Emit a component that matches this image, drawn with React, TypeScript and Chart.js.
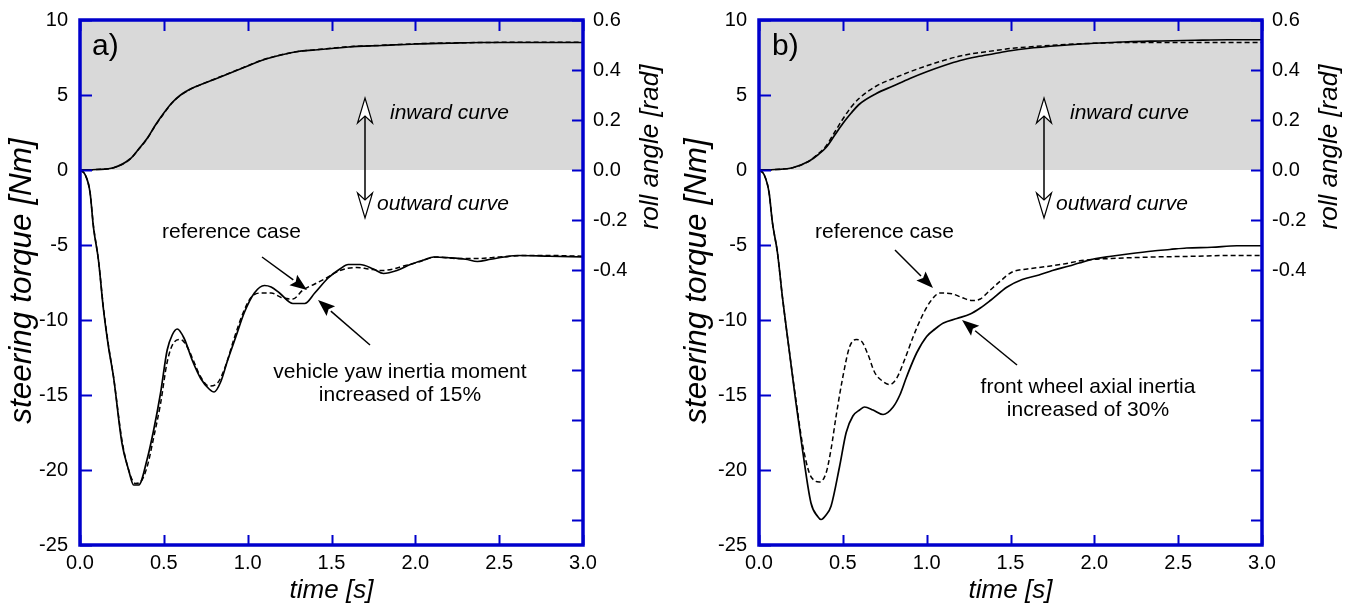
import React, { useEffect, useRef } from "react";
import { Chart, registerables } from "chart.js";

Chart.register(...registerables);

// ---------- ticks ----------
const TIME_TICKS = [0, 0.5, 1, 1.5, 2, 2.5, 3];
const TORQUE_TICKS = [-25, -20, -15, -10, -5, 0, 5, 10];
const ROLL_TICKS = [-1.4, -1.2, -1.0, -0.8, -0.6, -0.4, -0.2, 0, 0.2, 0.4, 0.6];
const ROLL_LABELLED = [-0.4, -0.2, 0, 0.2, 0.4, 0.6];

// ---------- panel a) : vehicle yaw inertia moment +15% ----------
const A_TORQUE_SOLID_T = [0, 0.03, 0.06, 0.08, 0.11, 0.14, 0.17, 0.2, 0.25, 0.29, 0.32, 0.35, 0.4, 0.44, 0.48, 0.52, 0.55, 0.58, 0.62, 0.67, 0.72, 0.77, 0.8, 0.84, 0.88, 0.93, 0.98, 1.04, 1.1, 1.14, 1.19, 1.27, 1.34, 1.4, 1.48, 1.55, 1.6, 1.67, 1.75, 1.81, 1.89, 1.97, 2.05, 2.11, 2.2, 2.3, 2.37, 2.45, 2.53, 2.61, 2.8, 3.0];
const A_TORQUE_SOLID_V = [0, -0.3, -1.5, -3.8, -6.0, -9.3, -11.8, -13.8, -18.2, -20.0, -21.0, -21.0, -19.3, -17.3, -14.9, -12.0, -11.0, -10.6, -11.2, -12.7, -13.9, -14.6, -14.8, -14.1, -12.7, -11.1, -9.5, -8.2, -7.7, -7.8, -8.2, -8.9, -8.9, -8.2, -7.2, -6.6, -6.3, -6.3, -6.6, -6.9, -6.7, -6.3, -6.0, -5.8, -5.85, -5.95, -6.1, -5.95, -5.8, -5.7, -5.75, -5.8];
const A_TORQUE_REF_T = [0, 0.03, 0.06, 0.08, 0.11, 0.14, 0.17, 0.2, 0.25, 0.29, 0.33, 0.36, 0.4, 0.44, 0.48, 0.52, 0.56, 0.6, 0.64, 0.68, 0.72, 0.77, 0.82, 0.87, 0.92, 0.97, 1.02, 1.08, 1.14, 1.2, 1.27, 1.33, 1.4, 1.47, 1.55, 1.65, 1.72, 1.8, 1.87, 1.93, 2.0, 2.13, 2.25, 2.37, 2.5, 2.65, 2.8, 3.0];
const A_TORQUE_REF_V = [0, -0.3, -1.5, -3.7, -6.0, -9.2, -11.7, -13.8, -18.0, -20.0, -20.9, -20.8, -19.8, -17.8, -15.6, -12.8, -11.5, -11.3, -11.8, -12.8, -13.8, -14.4, -14.2, -13.0, -11.2, -9.6, -8.5, -8.2, -8.2, -8.5, -8.6, -8.0, -7.6, -7.2, -6.7, -6.5, -6.6, -6.7, -6.6, -6.4, -6.2, -5.8, -5.9, -5.9, -5.8, -5.7, -5.7, -5.75];
const A_ROLL_T = [0, 0.1, 0.2, 0.3, 0.35, 0.4, 0.45, 0.5, 0.55, 0.6, 0.65, 0.7, 0.8, 0.9, 1.0, 1.1, 1.2, 1.3, 1.4, 1.5, 1.6, 1.8, 2.0, 2.2, 2.4, 2.6, 2.8, 3.0];
const A_ROLL_SOLID = [0, 0.002, 0.009, 0.045, 0.084, 0.126, 0.18, 0.228, 0.27, 0.3, 0.321, 0.336, 0.362, 0.389, 0.416, 0.442, 0.46, 0.474, 0.48, 0.486, 0.492, 0.498, 0.504, 0.507, 0.51, 0.51, 0.51, 0.51];
const A_ROLL_REF = [0, 0.002, 0.009, 0.044, 0.083, 0.125, 0.178, 0.226, 0.269, 0.299, 0.32, 0.336, 0.363, 0.39, 0.417, 0.443, 0.461, 0.474, 0.481, 0.487, 0.493, 0.499, 0.505, 0.508, 0.51, 0.511, 0.511, 0.511];

// ---------- panel b) : front wheel axial inertia +30% ----------
const B_TORQUE_SOLID_T = [0, 0.03, 0.06, 0.08, 0.11, 0.14, 0.18, 0.22, 0.26, 0.31, 0.35, 0.37, 0.4, 0.43, 0.48, 0.52, 0.56, 0.6, 0.63, 0.68, 0.74, 0.8, 0.84, 0.88, 0.94, 1.0, 1.05, 1.1, 1.18, 1.26, 1.32, 1.38, 1.48, 1.57, 1.67, 1.75, 1.85, 1.91, 2.01, 2.1, 2.2, 2.35, 2.45, 2.55, 2.7, 2.85, 3.0];
const B_TORQUE_SOLID_V = [0, -0.3, -1.5, -3.5, -5.5, -8.5, -12.0, -15.5, -18.7, -22.2, -23.1, -23.3, -23.0, -22.4, -19.8, -17.5, -16.4, -16.0, -15.8, -16.0, -16.3, -15.8, -15.0, -13.8, -12.2, -11.1, -10.6, -10.2, -9.9, -9.6, -9.2, -8.7, -7.8, -7.3, -7.0, -6.7, -6.4, -6.2, -5.9, -5.75, -5.6, -5.4, -5.3, -5.2, -5.15, -5.05, -5.05];
const B_TORQUE_REF_T = [0, 0.03, 0.06, 0.08, 0.11, 0.14, 0.18, 0.22, 0.26, 0.3, 0.33, 0.36, 0.4, 0.43, 0.46, 0.5, 0.54, 0.58, 0.61, 0.65, 0.69, 0.74, 0.78, 0.82, 0.87, 0.92, 0.97, 1.02, 1.08, 1.15, 1.21, 1.27, 1.32, 1.37, 1.44, 1.51, 1.6, 1.67, 1.8, 1.95, 2.1, 2.35, 2.6, 2.8, 3.0];
const B_TORQUE_REF_V = [0, -0.3, -1.5, -3.5, -5.5, -8.5, -12.0, -15.3, -18.3, -20.2, -20.7, -20.8, -20.2, -18.6, -16.4, -13.8, -11.8, -11.3, -11.4, -12.3, -13.5, -14.1, -14.3, -13.9, -12.6, -11.1, -9.8, -8.8, -8.2, -8.25, -8.5, -8.7, -8.6, -8.1, -7.4, -6.8, -6.6, -6.5, -6.3, -6.0, -5.9, -5.8, -5.75, -5.7, -5.7];
const B_ROLL_T = [0, 0.1, 0.2, 0.3, 0.35, 0.4, 0.45, 0.5, 0.55, 0.6, 0.7, 0.8, 0.9, 1.0, 1.1, 1.2, 1.3, 1.4, 1.5, 1.6, 1.8, 2.0, 2.2, 2.4, 2.6, 2.8, 3.0];
const B_ROLL_SOLID = [0, 0.002, 0.009, 0.036, 0.06, 0.09, 0.138, 0.186, 0.228, 0.264, 0.306, 0.336, 0.366, 0.393, 0.417, 0.438, 0.453, 0.465, 0.477, 0.486, 0.498, 0.507, 0.513, 0.516, 0.519, 0.521, 0.521];
const B_ROLL_REF = [0, 0.002, 0.009, 0.036, 0.063, 0.096, 0.15, 0.204, 0.252, 0.288, 0.336, 0.366, 0.393, 0.417, 0.438, 0.456, 0.468, 0.477, 0.486, 0.492, 0.501, 0.507, 0.51, 0.51, 0.51, 0.51, 0.51];

// ---------- text ----------
const X_TITLE = "time [s]";
const Y_TITLE = "steering torque [Nm]";
const Y1_TITLE = "roll angle [rad]";

const FONT = '"Liberation Sans", Arial, Helvetica, sans-serif';
const BLUE = "#0000cc";
const GREY = "#d9d9d9";

type PanelCfg = {
  label: string;
  labelX: number;
  yTitleX: number;
  refText: [number, number];
  refArrow: [number, number, number, number];
  varArrow: [number, number, number, number];
  varLines: string[];
  varCenter: [number, number];
  dblX: number;
  inwardX: number;
  outwardX: number;
  torqueSolid: [number[], number[]];
  torqueRef: [number[], number[]];
  rollT: number[];
  rollSolid: number[];
  rollRef: number[];
};

const PANELS: PanelCfg[] = [
  {
    label: "a)",
    labelX: 92,
    yTitleX: 31,
    refText: [162, 238],
    refArrow: [262, 257, 307, 290],
    varArrow: [370, 345, 318, 300],
    varLines: ["vehicle yaw inertia moment", "increased of 15%"],
    varCenter: [400, 378],
    dblX: 365,
    inwardX: 390,
    outwardX: 377,
    torqueSolid: [A_TORQUE_SOLID_T, A_TORQUE_SOLID_V],
    torqueRef: [A_TORQUE_REF_T, A_TORQUE_REF_V],
    rollT: A_ROLL_T,
    rollSolid: A_ROLL_SOLID,
    rollRef: A_ROLL_REF,
  },
  {
    label: "b)",
    labelX: 93,
    yTitleX: 27,
    refText: [136, 238],
    refArrow: [216, 250, 254, 288],
    varArrow: [338, 365, 283, 320],
    varLines: ["front wheel axial inertia", "increased of 30%"],
    varCenter: [409, 393],
    dblX: 365,
    inwardX: 391,
    outwardX: 377,
    torqueSolid: [B_TORQUE_SOLID_T, B_TORQUE_SOLID_V],
    torqueRef: [B_TORQUE_REF_T, B_TORQUE_REF_V],
    rollT: B_ROLL_T,
    rollSolid: B_ROLL_SOLID,
    rollRef: B_ROLL_REF,
  },
];

const W = 679;
const H = 605;

function zip(t: number[], v: number[]) {
  return t.map((x, i) => ({ x, y: v[i] }));
}

function filledArrow(ctx: CanvasRenderingContext2D, x1: number, y1: number, x2: number, y2: number) {
  const ang = Math.atan2(y2 - y1, x2 - x1);
  const len = 17;
  const hw = 6.5;
  const bx = x2 - len * Math.cos(ang);
  const by = y2 - len * Math.sin(ang);
  ctx.beginPath();
  ctx.moveTo(x1, y1);
  ctx.lineTo(bx, by);
  ctx.strokeStyle = "#000";
  ctx.lineWidth = 1.5;
  ctx.stroke();
  ctx.beginPath();
  ctx.moveTo(x2, y2);
  ctx.lineTo(bx + hw * Math.sin(ang), by - hw * Math.cos(ang));
  ctx.lineTo(bx + 3 * Math.cos(ang), by + 3 * Math.sin(ang));
  ctx.lineTo(bx - hw * Math.sin(ang), by + hw * Math.cos(ang));
  ctx.closePath();
  ctx.fillStyle = "#000";
  ctx.fill();
}

function hollowHead(ctx: CanvasRenderingContext2D, x: number, tipY: number, dir: number) {
  ctx.beginPath();
  ctx.moveTo(x, tipY);
  ctx.lineTo(x + 7.5, tipY + dir * 25);
  ctx.lineTo(x, tipY + dir * 18);
  ctx.lineTo(x - 7.5, tipY + dir * 25);
  ctx.closePath();
  ctx.fillStyle = "#fff";
  ctx.fill();
  ctx.strokeStyle = "#000";
  ctx.lineWidth = 1.2;
  ctx.stroke();
}

function makeDecor(p: PanelCfg) {
  return {
    id: "decor",
    beforeDatasetsDraw(chart: any) {
      const { ctx, chartArea } = chart;
      const y = chart.scales.y;
      const top = y.getPixelForValue(10);
      const zero = y.getPixelForValue(0);
      ctx.save();
      ctx.fillStyle = GREY;
      ctx.fillRect(chartArea.left, top, chartArea.right - chartArea.left, zero - top);
      ctx.restore();
    },
    afterDraw(chart: any) {
      const { ctx, chartArea } = chart;
      const xs = chart.scales.x;
      const ys = chart.scales.y;
      const y1 = chart.scales.y1;
      const { left, right, top, bottom } = chartArea;
      ctx.save();
      // inward ticks
      ctx.strokeStyle = BLUE;
      ctx.lineWidth = 2;
      ctx.beginPath();
      TIME_TICKS.forEach((t) => {
        const px = Math.round(xs.getPixelForValue(t)) + 0.5;
        ctx.moveTo(px, bottom);
        ctx.lineTo(px, bottom - 10);
        ctx.moveTo(px, top);
        ctx.lineTo(px, top + 11);
      });
      TORQUE_TICKS.forEach((v) => {
        const py = Math.round(ys.getPixelForValue(v)) + 0.5;
        ctx.moveTo(left, py);
        ctx.lineTo(left + 12, py);
      });
      ROLL_TICKS.forEach((v) => {
        const py = Math.round(y1.getPixelForValue(v)) + 0.5;
        ctx.moveTo(right, py);
        ctx.lineTo(right - 11, py);
      });
      ctx.stroke();
      // frame
      ctx.lineWidth = 3.5;
      ctx.strokeRect(left, top, right - left, bottom - top);

      // titles
      ctx.fillStyle = "#000";
      ctx.textAlign = "center";
      ctx.textBaseline = "alphabetic";
      ctx.font = `italic 26px ${FONT}`;
      ctx.fillText(X_TITLE, (left + right) / 2, 598);

      ctx.save();
      ctx.translate(p.yTitleX, 281);
      ctx.rotate(-Math.PI / 2);
      ctx.font = `italic 31.5px ${FONT}`;
      ctx.fillText(Y_TITLE, 0, 0);
      ctx.restore();

      ctx.save();
      ctx.translate(right + 75, 147);
      ctx.rotate(-Math.PI / 2);
      ctx.font = `italic 26px ${FONT}`;
      ctx.fillText(Y1_TITLE, 0, 0);
      ctx.restore();

      // panel label
      ctx.textAlign = "left";
      ctx.font = `30px ${FONT}`;
      ctx.fillText(p.label, p.labelX, 55);

      // inward / outward
      ctx.font = `italic 21px ${FONT}`;
      ctx.fillText("inward curve", p.inwardX, 119);
      ctx.fillText("outward curve", p.outwardX, 210);
      ctx.beginPath();
      ctx.moveTo(p.dblX, 116);
      ctx.lineTo(p.dblX, 200);
      ctx.strokeStyle = "#000";
      ctx.lineWidth = 1.5;
      ctx.stroke();
      hollowHead(ctx, p.dblX, 98, 1);
      hollowHead(ctx, p.dblX, 218, -1);

      // reference case
      ctx.fillStyle = "#000";
      ctx.font = `21px ${FONT}`;
      ctx.textAlign = "left";
      ctx.fillText("reference case", p.refText[0], p.refText[1]);
      filledArrow(ctx, ...p.refArrow);

      // variant
      ctx.fillStyle = "#000";
      ctx.textAlign = "center";
      ctx.font = `21px ${FONT}`;
      p.varLines.forEach((s, i) => ctx.fillText(s, p.varCenter[0], p.varCenter[1] + i * 23));
      filledArrow(ctx, ...p.varArrow);
      ctx.restore();
    },
  };
}

function Panel({ p, left }: { p: PanelCfg; left: number }) {
  const ref = useRef<HTMLCanvasElement | null>(null);
  useEffect(() => {
    if (!ref.current) return;
    const tickFont = { family: FONT, size: 20 };
    const chart = new Chart(ref.current, {
      type: "line",
      data: {
        datasets: [
          {
            data: zip(p.torqueRef[0], p.torqueRef[1]),
            yAxisID: "y",
            borderColor: "#000",
            borderWidth: 1.5,
            borderDash: [5, 3],
            pointRadius: 0,
            cubicInterpolationMode: "monotone",
          },
          {
            data: zip(p.torqueSolid[0], p.torqueSolid[1]),
            yAxisID: "y",
            borderColor: "#000",
            borderWidth: 1.7,
            pointRadius: 0,
            cubicInterpolationMode: "monotone",
          },
          {
            data: zip(p.rollT, p.rollRef),
            yAxisID: "y1",
            borderColor: "#000",
            borderWidth: 1.5,
            borderDash: [5, 3],
            pointRadius: 0,
            cubicInterpolationMode: "monotone",
          },
          {
            data: zip(p.rollT, p.rollSolid),
            yAxisID: "y1",
            borderColor: "#000",
            borderWidth: 1.7,
            pointRadius: 0,
            cubicInterpolationMode: "monotone",
          },
        ],
      },
      options: {
        animation: false,
        responsive: false,
        devicePixelRatio: 1,
        parsing: false as any,
        normalized: true,
        layout: { padding: { top: 20, left: 0, right: 0, bottom: 0 } },
        plugins: { legend: { display: false }, tooltip: { enabled: false } },
        events: [],
        scales: {
          x: {
            type: "linear",
            min: 0,
            max: 3,
            afterBuildTicks: (s: any) => {
              s.ticks = TIME_TICKS.map((v) => ({ value: v }));
            },
            afterFit: (s: any) => {
              s.height = 60;
              s.paddingLeft = 0;
              s.paddingRight = 0;
            },
            ticks: {
              callback: (v: any) => Number(v).toFixed(1),
              font: tickFont,
              color: "#000",
              padding: 6,
              maxRotation: 0,
              autoSkip: false,
            },
            grid: { display: false, drawTicks: false },
            border: { display: false },
          },
          y: {
            type: "linear",
            position: "left",
            min: -25,
            max: 10,
            afterBuildTicks: (s: any) => {
              s.ticks = TORQUE_TICKS.map((v) => ({ value: v }));
            },
            afterFit: (s: any) => {
              s.width = 80;
              s.paddingTop = 0;
              s.paddingBottom = 0;
            },
            ticks: {
              callback: (v: any) => String(v),
              font: tickFont,
              color: "#000",
              padding: 12,
              autoSkip: false,
            },
            grid: { display: false, drawTicks: false },
            border: { display: false },
          },
          y1: {
            type: "linear",
            position: "right",
            min: -1.5,
            max: 0.6,
            afterBuildTicks: (s: any) => {
              s.ticks = ROLL_LABELLED.map((v) => ({ value: v }));
            },
            afterFit: (s: any) => {
              s.width = 96;
              s.paddingTop = 0;
              s.paddingBottom = 0;
            },
            ticks: {
              callback: (v: any) => Number(v).toFixed(1),
              font: tickFont,
              color: "#000",
              padding: 10,
              autoSkip: false,
            },
            grid: { display: false, drawTicks: false },
            border: { display: false },
          },
        },
      } as any,
      plugins: [makeDecor(p)],
    });
    return () => chart.destroy();
  }, [p]);
  return (
    <div style={{ position: "absolute", left, top: 0, width: W, height: H }}>
      <canvas ref={ref} width={W} height={H} style={{ display: "block", width: W, height: H }} />
    </div>
  );
}

export default function App() {
  return (
    <div style={{ position: "fixed", left: 0, top: 0, width: 1358, height: 605, background: "#fff" }}>
      <Panel p={PANELS[0]} left={0} />
      <Panel p={PANELS[1]} left={679} />
    </div>
  );
}
